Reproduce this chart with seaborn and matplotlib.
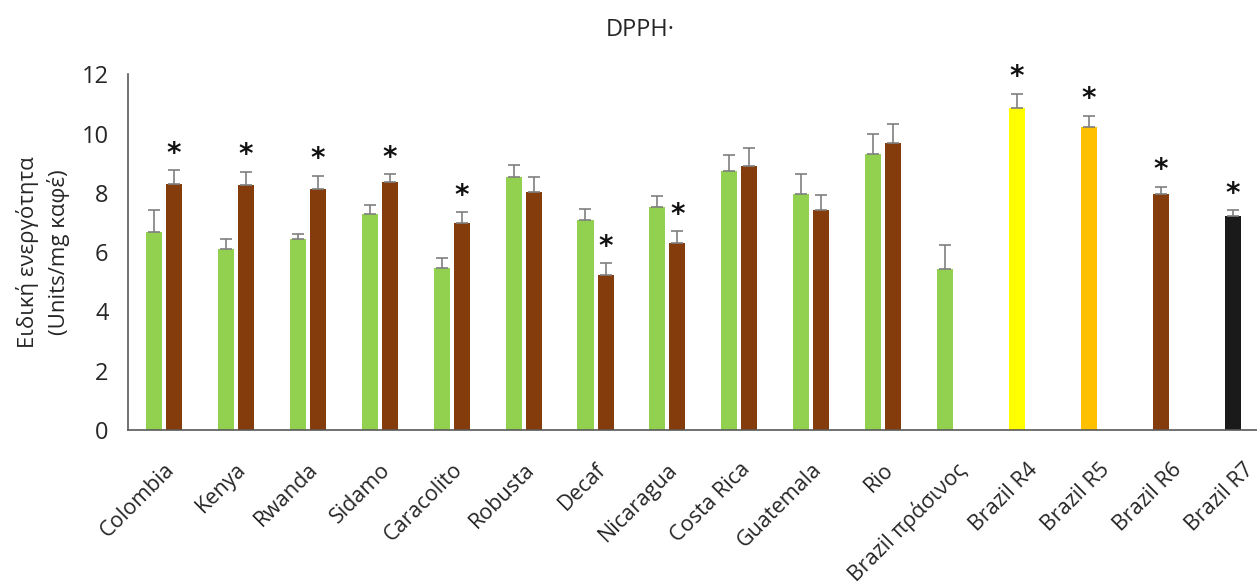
import pandas as pd
import matplotlib
matplotlib.use("Agg")
import matplotlib.pyplot as plt
import seaborn as sns

# categories on the x axis
categories = ["Colombia", "Kenya", "Rwanda", "Sidamo", "Caracolito", "Robusta", "Decaf",
              "Nicaragua", "Costa Rica", "Guatemala", "Rio", "Brazil πράσινος",
              "Brazil R4", "Brazil R5", "Brazil R6", "Brazil R7"]

# green beans (left bar of each pair)
green_mean = [6.69, 6.12, 6.43, 7.30, 5.47, 8.53, 7.07, 7.51, 8.73, 7.95, 9.30, 5.42]
green_sd = [0.72, 0.34, 0.17, 0.29, 0.33, 0.41, 0.38, 0.38, 0.56, 0.69, 0.69, 0.82]

# roasted beans (right bar of each pair)
roast_mean = [8.31, 8.26, 8.12, 8.38, 6.99, 8.04, 5.24, 6.30, 8.91, 7.43, 9.69]
roast_sd = [0.46, 0.46, 0.46, 0.26, 0.37, 0.51, 0.38, 0.41, 0.59, 0.51, 0.64]
roast_star = [True, True, True, True, True, False, True, True, False, False, False]

# Brazil roast degrees, single bars
brazil_mean = [10.86, 10.21, 7.95, 7.21]
brazil_sd = [0.49, 0.39, 0.26, 0.21]
brazil_colors = ["#FFFF00", "#FFC000", "#843C0C", "#1A1A1A"]

GREEN = "#92D050"
BROWN = "#843C0C"

rows = []
for i, (m, s) in enumerate(zip(green_mean, green_sd)):
    rows.append(dict(cat=categories[i], slot="a", mean=m, sd=s, star=False, color=GREEN))
for i, (m, s, st) in enumerate(zip(roast_mean, roast_sd, roast_star)):
    rows.append(dict(cat=categories[i], slot="b", mean=m, sd=s, star=st, color=BROWN))
for j, (m, s, c) in enumerate(zip(brazil_mean, brazil_sd, brazil_colors)):
    rows.append(dict(cat=categories[12 + j], slot="a", mean=m, sd=s, star=True, color=c))
df = pd.DataFrame(rows)

sns.set_style("white")
plt.rcParams["font.family"] = ["Open Sans", "DejaVu Sans"]

fig = plt.figure(figsize=(12.57, 5.83), dpi=100)
ax = fig.add_axes([128 / 1257, 1 - 430 / 583, 1 - 128 / 1257, (430 - 74.3) / 583])

sns.barplot(data=df, x="cat", y="mean", hue="slot", order=categories, hue_order=["a", "b"],
            palette=[GREEN, BROWN], saturation=1, width=0.557, gap=0.2,
            errorbar=None, legend=False, ax=ax)

for p in ax.patches:
    xc = p.get_x() + p.get_width() / 2
    g = int(round(xc))
    slot = "a" if xc < g else "b"
    r = df[(df.cat == categories[g]) & (df.slot == slot)].iloc[0]
    p.set_facecolor(r["color"])
    p.set_edgecolor("none")
    ax.errorbar(xc, r["mean"], yerr=[[0], [r["sd"]]], fmt="none", ecolor="#7F7F7F",
                elinewidth=1.2, capsize=4, capthick=1.2)
    if r["star"]:
        ax.text(xc, r["mean"] + r["sd"] + 0.55, "*", ha="center", va="center",
                fontsize=20, fontweight="bold", color="#111111", family="DejaVu Sans")

ax.set_ylim(0, 12)
ax.set_xlim(-0.5, (1257 - 165.4) / 71.83)
ax.set_yticks(range(0, 13, 2))
ax.tick_params(axis="y", labelsize=17, length=6, width=1, color="#595959", pad=8)
ax.set_xticks(range(len(categories)))
ax.set_xticklabels(categories, rotation=45, ha="right", va="top", rotation_mode="anchor",
                   fontsize=15.5)
ax.tick_params(axis="x", length=0, pad=21)
for side in ["top", "right"]:
    ax.spines[side].set_visible(False)
for side in ["left", "bottom"]:
    ax.spines[side].set_color("#595959")
    ax.spines[side].set_linewidth(1.2)
ax.set_xlabel("")
ax.set_ylabel("")

fig.text(640 / 1257, 1 - 30 / 583, "DPPH·", ha="center", va="center", fontsize=17)
fig.text(43 / 1257, 1 - 252 / 583, "Ειδική ενεργότητα\n(Units/mg καφέ)", rotation=90,
         ha="center", va="center", multialignment="center", fontsize=16, linespacing=1.4)

fig.savefig("out.png", dpi=100)
